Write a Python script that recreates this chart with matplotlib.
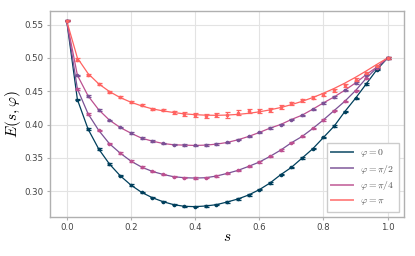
import numpy as np
import matplotlib
matplotlib.use('Agg')
import matplotlib.pyplot as plt

# s grid: 31 points, step 1/30
s_vals = np.arange(31) / 30.0

# ── energies ───────────────────────────────────────────────────────
E_phi0 = [0.556, 0.4375, 0.393, 0.363, 0.3405, 0.323, 0.309, 0.298, 0.290, 0.284,
          0.2795, 0.277, 0.2765, 0.2775, 0.2795, 0.2835, 0.288, 0.294, 0.302, 0.312,
          0.3245, 0.3355, 0.3495, 0.3635, 0.3805, 0.3975, 0.4195, 0.4395, 0.461, 0.4825,
          0.500]
E_phi_half = [0.556, 0.4535, 0.416, 0.391, 0.371, 0.357, 0.345, 0.336, 0.3295, 0.325,
              0.3215, 0.320, 0.3195, 0.320, 0.3225, 0.3265, 0.331, 0.337, 0.3435, 0.352,
              0.3615, 0.3725, 0.382, 0.394, 0.407, 0.421, 0.435, 0.451, 0.4695, 0.4855,
              0.500]
E_phi_quarter = [0.556, 0.474, 0.443, 0.422, 0.4065, 0.3955, 0.387, 0.3795, 0.375, 0.3715,
                 0.3695, 0.369, 0.3685, 0.369, 0.3705, 0.373, 0.377, 0.382, 0.388, 0.3945,
                 0.400, 0.4075, 0.414, 0.423, 0.4325, 0.4415, 0.4515, 0.4625, 0.475, 0.4865,
                 0.500]
E_phi_pi = [0.556, 0.4975, 0.475, 0.461, 0.4495, 0.441, 0.4345, 0.429, 0.4235, 0.422,
            0.4185, 0.4165, 0.4145, 0.4135, 0.414, 0.4145, 0.418, 0.421, 0.421, 0.422,
            0.4265, 0.432, 0.4365, 0.4405, 0.445, 0.4515, 0.459, 0.4675, 0.4775, 0.4875,
            0.500]
# the red fitted curve is smoother than its data points
fit_phi_pi = [0.556, 0.500, 0.4765, 0.461, 0.4495, 0.4405, 0.4335, 0.428, 0.4235, 0.4205,
              0.418, 0.416, 0.4148, 0.414, 0.4138, 0.4142, 0.4152, 0.4168, 0.419, 0.422,
              0.4255, 0.4298, 0.4348, 0.4405, 0.447, 0.4542, 0.4622, 0.471, 0.4805, 0.4905,
              0.500]

# error bars (rough reading)
err_small = [0.001] * 31
err_pi = [0.001, 0.002, 0.0015, 0.0015, 0.0015, 0.0015, 0.0015, 0.0015, 0.002, 0.002,
          0.002, 0.003, 0.003, 0.003, 0.003, 0.004, 0.004, 0.003, 0.003, 0.003,
          0.003, 0.002, 0.002, 0.002, 0.002, 0.002, 0.002, 0.002, 0.002, 0.0015,
          0.001]

labels = [r'$\varphi = 0$', r'$\varphi = \pi/2$', r'$\varphi = \pi/4$', r'$\varphi = \pi$']
line_colors = ['#003f5c', '#7a5195', '#bc5090', '#ff6361']
# markers of the two middle curves use the swapped colours in the original
marker_colors = ['#003f5c', '#bc5090', '#7a5195', '#ff6361']

series = [E_phi0, E_phi_half, E_phi_quarter, E_phi_pi]
curves = [E_phi0, E_phi_half, E_phi_quarter, fit_phi_pi]
errors = [err_small, err_small, err_small, err_pi]

plt.rcParams['mathtext.fontset'] = 'cm'
plt.rcParams['font.family'] = 'DejaVu Sans'

fig = plt.figure(figsize=(4.15, 2.56), dpi=100)
ax = fig.add_axes([0.1205, 0.1535, 0.853, 0.8035])

for y, c, e, lc, mc, lab in zip(series, curves, errors, line_colors, marker_colors, labels):
    ax.plot(s_vals, c, color=lc, lw=0.9, label=lab, zorder=2)
    ax.errorbar(s_vals, y, yerr=e, fmt='o', ms=1.6, color=mc, ecolor=mc,
                elinewidth=0.9, capsize=1.8, capthick=0.9, zorder=3)

ax.set_xlim(-0.052, 1.051)
ax.set_ylim(0.2614, 0.5706)
ax.set_xticks([0.0, 0.2, 0.4, 0.6, 0.8, 1.0])
ax.set_yticks([0.30, 0.35, 0.40, 0.45, 0.50, 0.55])
ax.grid(True, color='#e3e3e3', lw=0.8, zorder=0)
ax.set_axisbelow(True)

for sp in ax.spines.values():
    sp.set_color('#b0b0b0')
    sp.set_linewidth(1.0)
ax.tick_params(axis='both', labelsize=6.2, colors='#b0b0b0', labelcolor='#444444',
               length=2.5, width=0.8, pad=2)

ax.set_xlabel(r'$s$', fontsize=11, labelpad=-2)
ax.set_ylabel(r'$E(s,\varphi)$', fontsize=11, labelpad=1)

leg = ax.legend(loc='lower right', fontsize=7, frameon=True, fancybox=False,
                edgecolor='#cccccc', framealpha=1.0, handlelength=2.2,
                borderpad=0.45, labelspacing=0.35, handletextpad=0.8)
for line in leg.get_lines():
    line.set_linewidth(1.4)
    line.set_alpha(0.75)
for t in leg.get_texts():
    t.set_color('#555555')

fig.savefig('out.png', dpi=100)
